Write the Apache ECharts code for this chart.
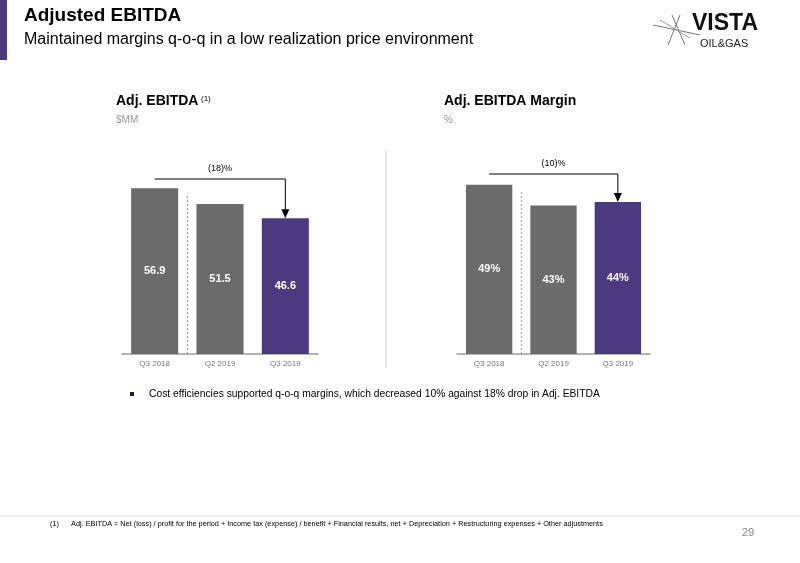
<!DOCTYPE html><html><head><meta charset="utf-8"><script src="https://cdn.jsdelivr.net/npm/echarts@6/dist/echarts.min.js"></script>
<style>body{margin:0}#c{width:800px;height:563px}</style></head><body><div id="c"></div><script>
const categories=['Q3 2018','Q2 2019','Q3 2019'];
const ebitda=[56.9,51.5,46.6];
const margin=[49,43,44];
const marginLabels=['49%','43%','44%'];
const GRAY='#6b6b6b',PURPLE='#4b3a7f';
const ch=echarts.init(document.getElementById('c'));
function bars(vals,labels,axis){return{type:'bar',xAxisIndex:axis,yAxisIndex:axis,barWidth:'72%',
 data:vals.map((v,i)=>({value:v,itemStyle:{color:i==2?PURPLE:GRAY}})),
 label:{show:true,position:'inside',color:'#fff',fontWeight:'bold',fontSize:11,fontFamily:'Liberation Sans',formatter:p=>labels?labels[p.dataIndex]:p.value.toFixed(1)}}}
const xa=g=>({type:'category',gridIndex:g,data:categories,axisTick:{show:false},axisLine:{lineStyle:{color:'#999',width:1.5}},axisLabel:{color:'#777',fontSize:8,fontFamily:'Liberation Sans',margin:6}});
const ya=(g,m)=>({type:'value',gridIndex:g,min:0,max:m,show:false});
const T=(x,y,t,s,w,c)=>({type:'text',left:x,top:y,style:{text:t,font:(w||'normal')+' '+s+'px Liberation Sans',fill:c||'#000'}});
ch.setOption({animation:false,
grid:[{left:122,width:196,top:150,height:204},{left:457,width:193,top:150,height:204}],
xAxis:[xa(0),xa(1)],yAxis:[ya(0,70),ya(1,59.1)],
series:[bars(ebitda,null,0),bars(margin,marginLabels,1)]});
function px(g,i,v){return ch.convertToPixel({xAxisIndex:g,yAxisIndex:g},[i,v]);}
function arrow(g,vals,yl,lab){const a=px(g,0,vals[0]),b=px(g,2,vals[2]);const y=yl;
 return [{type:'polyline',shape:{points:[[a[0],y],[b[0],y],[b[0],b[1]-8]]},style:{stroke:'#000',lineWidth:1,fill:null}},
 {type:'polygon',shape:{points:[[b[0]-4,b[1]-9],[b[0]+4,b[1]-9],[b[0],b[1]]]},style:{fill:'#000'}},
 {type:'text',x:(a[0]+b[0])/2,y:y-6,style:{text:lab,font:'9px Liberation Sans',fill:'#000',align:'center',verticalAlign:'bottom'}}];}
const a0=px(0,0,0),a1=px(0,1,0),b0=px(1,0,0),b1=px(1,1,0);
const sepL={type:'line',shape:{x1:(a0[0]+a1[0])/2,y1:196,x2:(a0[0]+a1[0])/2,y2:354},style:{stroke:'#999',lineDash:[2,2],lineWidth:1}};
const sepR={type:'line',shape:{x1:(b0[0]+b1[0])/2,y1:192,x2:(b0[0]+b1[0])/2,y2:354},style:{stroke:'#999',lineDash:[2,2],lineWidth:1}};
ch.setOption({graphic:[
 {type:'rect',shape:{x:0,y:0,width:7,height:60},style:{fill:PURPLE}},
 T(24,6,'Adjusted EBITDA',19,'bold'),T(24,32,'Maintained margins q-o-q in a low realization price environment',16),
 T(116,94,'Adj. EBITDA',14,'bold'),T(201,95,'(1)',8),T(116,115,'$MM',10,'normal','#999'),
 T(444,94,'Adj. EBITDA Margin',14,'bold'),T(444,115,'%',10,'normal','#999'),
 {type:'line',shape:{x1:386,y1:150,x2:386,y2:368},style:{stroke:'#ccc',lineWidth:1}},
 sepL,sepR,...arrow(0,ebitda,179,'(18)%'),...arrow(1,margin,174,'(10)%'),
 {type:'rect',shape:{x:130,y:392,width:4,height:4},style:{fill:'#1a1a5a'}},
 T(149,389,'Cost efficiencies supported q-o-q margins, which decreased 10% against 18% drop in Adj. EBITDA',10.3),
 {type:'line',shape:{x1:0,y1:516,x2:800,y2:516},style:{stroke:'#ddd',lineWidth:1}},
 T(50,520,'(1)      Adj. EBITDA = Net (loss) / profit for the period + Income tax (expense) / benefit + Financial results, net + Depreciation + Restructuring expenses + Other adjustments',7.3),
 T(742,527,'29',11,'normal','#888'),
 T(692,12,'VISTA',23,'bold','#111'),T(700,38,'OIL&GAS',11,'normal','#222'),
 {type:'line',shape:{x1:653,y1:25,x2:700,y2:35},style:{stroke:'#777',lineWidth:1}},
 {type:'line',shape:{x1:672,y1:15,x2:685,y2:45},style:{stroke:'#777',lineWidth:1}},
 {type:'line',shape:{x1:680,y1:15,x2:668,y2:45},style:{stroke:'#777',lineWidth:1}},
 {type:'line',shape:{x1:660,y1:20,x2:690,y2:38},style:{stroke:'#999',lineWidth:1}}
]});
</script></body></html>
